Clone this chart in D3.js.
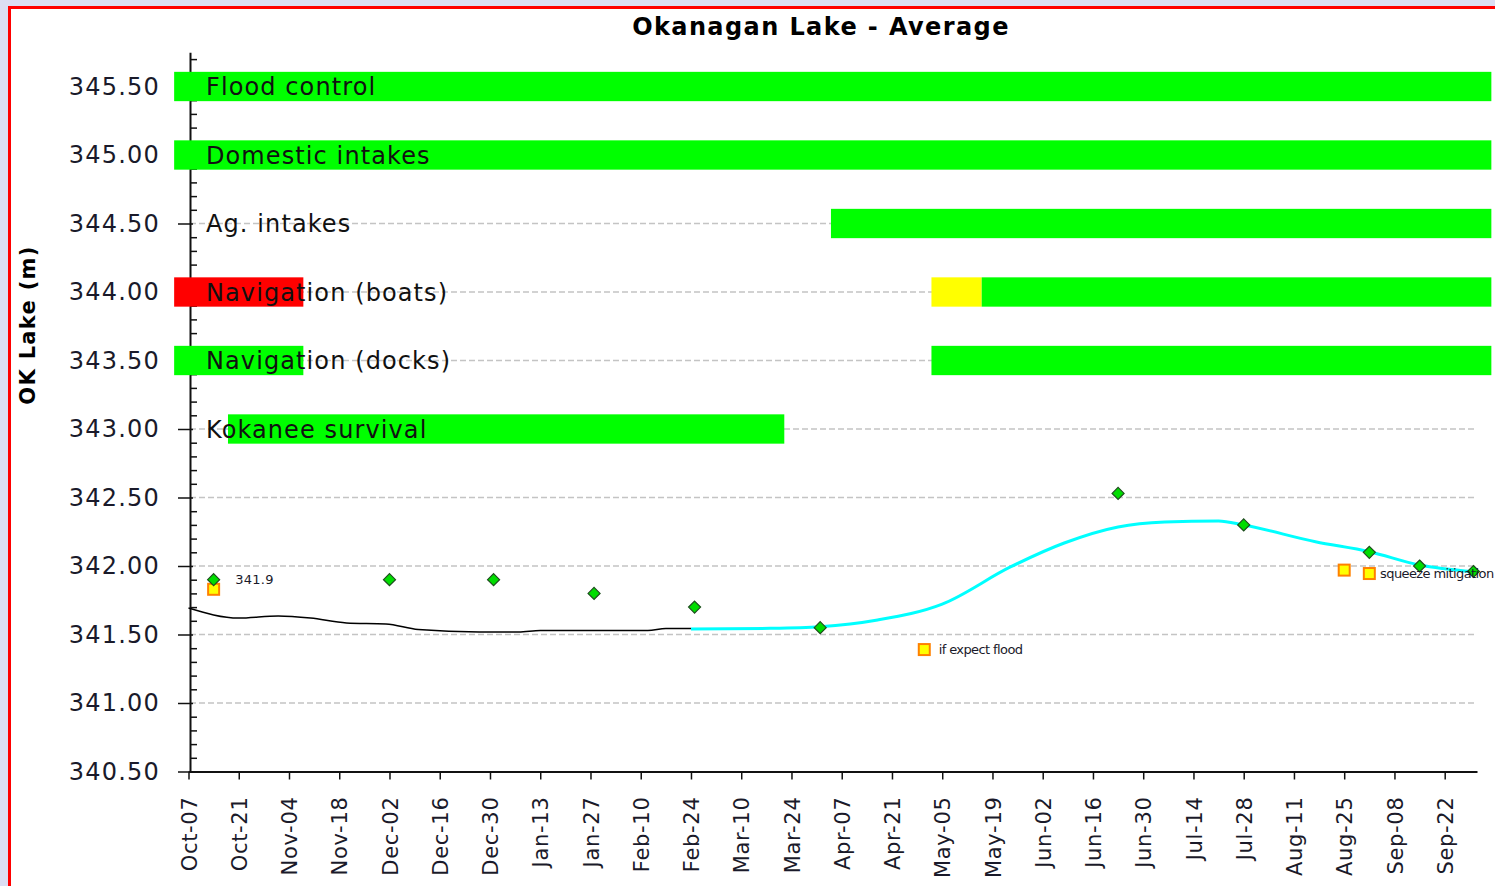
<!DOCTYPE html>
<html>
<head>
<meta charset="utf-8">
<script src="https://cdn.jsdelivr.net/npm/d3@7"></script>
<style>
  body { margin: 0; background: #dcdef3; }
  svg { display: block; }
</style>
</head>
<body>
<svg id="chart"></svg>
<script>
// --- data ---
const tickDates = ["2018-10-07", "2018-10-21", "2018-11-04", "2018-11-18", "2018-12-02", "2018-12-16",
  "2018-12-30", "2019-01-13", "2019-01-27", "2019-02-10", "2019-02-24", "2019-03-10", "2019-03-24",
  "2019-04-07", "2019-04-21", "2019-05-05", "2019-05-19", "2019-06-02", "2019-06-16", "2019-06-30",
  "2019-07-14", "2019-07-28", "2019-08-11", "2019-08-25", "2019-09-08", "2019-09-22"];
const levelTicks = [340.5, 341.0, 341.5, 342.0, 342.5, 343.0, 343.5, 344.0, 344.5, 345.0, 345.5];

const bandNames = ["Flood control", "Domestic intakes", "Ag. intakes", "Navigation (boats)", "Navigation (docks)", "Kokanee survival"];
const bandLevels = [345.5, 345.0, 344.5, 344.0, 343.5, 343.0];
// [band index, from, to, status]
const bandSegments = [
  [0, "2018-10-03", "2019-10-05", "ok"],
  [1, "2018-10-03", "2019-10-05", "ok"],
  [2, "2019-04-04", "2019-10-05", "ok"],
  [3, "2018-10-03", "2018-11-08", "bad"],
  [3, "2019-05-02", "2019-05-16", "warn"],
  [3, "2019-05-16", "2019-10-05", "ok"],
  [4, "2018-10-03", "2018-11-08", "ok"],
  [4, "2019-05-02", "2019-10-05", "ok"],
  [5, "2018-10-18", "2019-03-22", "ok"]
];

const pastDates = ["2018-10-07", "2018-10-21", "2018-11-01", "2018-11-10", "2018-11-20", "2018-12-01",
  "2018-12-10", "2018-12-27", "2019-01-07", "2019-01-13", "2019-02-12", "2019-02-17", "2019-02-24"];
const pastLevels = [341.693, 341.62, 341.635, 341.62, 341.584, 341.577, 341.536, 341.518, 341.518,
  341.529, 341.529, 341.544, 341.544];

const forecastDates = ["2019-02-24", "2019-03-18", "2019-04-01", "2019-04-17", "2019-05-05", "2019-05-24",
  "2019-06-08", "2019-06-23", "2019-07-06", "2019-07-21", "2019-07-28", "2019-08-17", "2019-09-01",
  "2019-09-15", "2019-09-30"];
const forecastLevels = [341.54, 341.545, 341.557, 341.606, 341.722, 341.993, 342.168, 342.285, 342.321,
  342.329, 342.299, 342.177, 342.104, 342.007, 341.958];

const targetDates = ["2018-10-14", "2018-12-02", "2018-12-31", "2019-01-28", "2019-02-25", "2019-04-01",
  "2019-06-23", "2019-07-28", "2019-09-01", "2019-09-15", "2019-09-30"];
const targetLevels = [341.9, 341.9, 341.9, 341.8, 341.7, 341.55, 342.53, 342.30, 342.10, 342.0, 341.96];

const altDates = ["2018-10-14", "2019-04-30", "2019-08-25", "2019-09-01"];
const altLevels = [341.83, 341.39, 341.97, 341.945];

const noteTexts = ["341.9", "if expect flood", "squeeze mitigation"];
const noteDates = ["2018-10-20", "2019-05-04", "2019-09-04"];
const noteLevels = [341.9, 341.39, 341.945];

// --- layout ---
const W = 1495, H = 886;
const parse = d3.timeParse("%Y-%m-%d");
const fmt = d3.timeFormat("%b-%d");

const svg = d3.select("#chart").attr("width", W).attr("height", H);

svg.append("rect")
  .attr("x", 9.5).attr("y", 7.5)
  .attr("width", W + 20).attr("height", H + 20)
  .attr("fill", "#fff").attr("stroke", "#ff0000").attr("stroke-width", 3);

const x = d3.scaleTime()
  .domain([parse("2018-10-07"), parse("2019-10-01")])
  .range([188.5, 1477]);
const y = d3.scaleLinear()
  .domain([340.5, 345.75])
  .range([771.5, 52.25]);

const font = "'DejaVu Sans', Verdana, sans-serif";

svg.append("text")
  .attr("x", 821).attr("y", 35)
  .attr("text-anchor", "middle")
  .attr("font-family", font).attr("font-weight", "bold").attr("font-size", 24)
  .attr("letter-spacing", 1.4)
  .attr("fill", "#000")
  .text("Okanagan Lake - Average");

svg.append("text")
  .attr("transform", "translate(35,325) rotate(-90)")
  .attr("text-anchor", "middle")
  .attr("font-family", font).attr("font-weight", "bold").attr("font-size", 21)
  .attr("letter-spacing", 1.3)
  .attr("fill", "#000")
  .text("OK Lake (m)");

// grid
svg.append("g")
  .selectAll("line")
  .data(levelTicks.filter(v => v > 340.5))
  .enter().append("line")
  .attr("x1", 190).attr("x2", 1477)
  .attr("y1", d => y(d)).attr("y2", d => y(d))
  .attr("stroke", "#c4c4c4").attr("stroke-width", 1.5)
  .attr("stroke-dasharray", "6,3");

// axes
const xAxis = svg.append("g")
  .attr("transform", `translate(0,${y(340.5)})`)
  .call(d3.axisBottom(x).tickValues(tickDates.map(parse)).tickFormat(fmt).tickSize(8).tickSizeOuter(0));
xAxis.select(".domain").attr("stroke", "#111").attr("stroke-width", 2);
xAxis.selectAll(".tick line").attr("stroke", "#111").attr("stroke-width", 1.5);
xAxis.selectAll("text")
  .attr("font-family", font).attr("font-size", 21).attr("fill", "#1a1a2a")
  .attr("letter-spacing", 0.7)
  .attr("text-anchor", "end")
  .attr("transform", "rotate(-90)")
  .attr("x", -25).attr("y", 0).attr("dy", "0.36em");

const minorTicks = d3.range(340.6, 345.75, 0.1).filter(v => Math.abs(v * 2 - Math.round(v * 2)) > 0.01);
svg.append("g")
  .attr("transform", "translate(190,0)")
  .call(d3.axisRight(y).tickValues(minorTicks).tickSize(7).tickFormat("").tickSizeOuter(0))
  .call(g => g.select(".domain").remove())
  .selectAll("line").attr("stroke", "#111").attr("stroke-width", 1.5);

const yAxis = svg.append("g")
  .attr("transform", "translate(190,0)")
  .call(d3.axisLeft(y).tickValues(levelTicks).tickFormat(d3.format(".2f")).tickSize(12).tickPadding(18).tickSizeOuter(0));
yAxis.select(".domain").attr("stroke", "#111").attr("stroke-width", 2);
yAxis.selectAll(".tick line").attr("x1", 3).attr("stroke", "#111").attr("stroke-width", 1.5);
yAxis.selectAll("text")
  .attr("font-family", font).attr("font-size", 24).attr("fill", "#1a1a2a")
  .attr("letter-spacing", 1.2);

// bands
const statusColor = d3.scaleOrdinal().domain(["ok", "warn", "bad"]).range(["#00ff00", "#ffff00", "#ff0000"]);
const halfBand = 0.107;
svg.append("g")
  .selectAll("rect")
  .data(bandSegments)
  .enter().append("rect")
  .attr("x", d => x(parse(d[1])))
  .attr("width", d => x(parse(d[2])) - x(parse(d[1])))
  .attr("y", d => y(bandLevels[d[0]] + halfBand))
  .attr("height", d => y(bandLevels[d[0]] - halfBand) - y(bandLevels[d[0]] + halfBand))
  .attr("fill", d => statusColor(d[3]));

svg.append("g")
  .selectAll("text")
  .data(bandNames)
  .enter().append("text")
  .attr("x", 206)
  .attr("y", (d, i) => y(bandLevels[i]))
  .attr("dy", "0.36em")
  .attr("font-family", font).attr("font-size", 24).attr("fill", "#111")
  .attr("letter-spacing", 1.1)
  .text(d => d);

// lines
const line = d3.line()
  .x(d => x(parse(d[0])))
  .y(d => y(d[1]))
  .curve(d3.curveMonotoneX);

svg.append("path")
  .datum(d3.zip(pastDates, pastLevels))
  .attr("d", line)
  .attr("fill", "none").attr("stroke", "#000").attr("stroke-width", 1.5);

svg.append("path")
  .datum(d3.zip(forecastDates, forecastLevels))
  .attr("d", line)
  .attr("fill", "none").attr("stroke", "#00ffff").attr("stroke-width", 3);

// markers
svg.append("g")
  .selectAll("rect")
  .data(d3.zip(altDates, altLevels))
  .enter().append("rect")
  .attr("x", d => x(parse(d[0])) - 5.5)
  .attr("y", d => y(d[1]) - 5.5)
  .attr("width", 11).attr("height", 11)
  .attr("fill", "#ffff00").attr("stroke", "#ff8000").attr("stroke-width", 2);

svg.append("g")
  .selectAll("path")
  .data(d3.zip(targetDates, targetLevels))
  .enter().append("path")
  .attr("transform", d => `translate(${x(parse(d[0]))},${y(d[1])})`)
  .attr("d", "M0,-6L6,0L0,6L-6,0Z")
  .attr("fill", "#00dd00").attr("stroke", "#1d4d1d").attr("stroke-width", 1.2);

svg.append("g")
  .selectAll("text")
  .data(noteTexts)
  .enter().append("text")
  .attr("x", (d, i) => x(parse(noteDates[i])))
  .attr("y", (d, i) => y(noteLevels[i]))
  .attr("dy", "0.36em")
  .attr("font-family", font).attr("font-size", 13)
  .attr("letter-spacing", (d, i) => i === 0 ? 0.3 : -0.6)
  .attr("fill", "#1a1a2a")
  .text(d => d);
</script>
</body>
</html>
